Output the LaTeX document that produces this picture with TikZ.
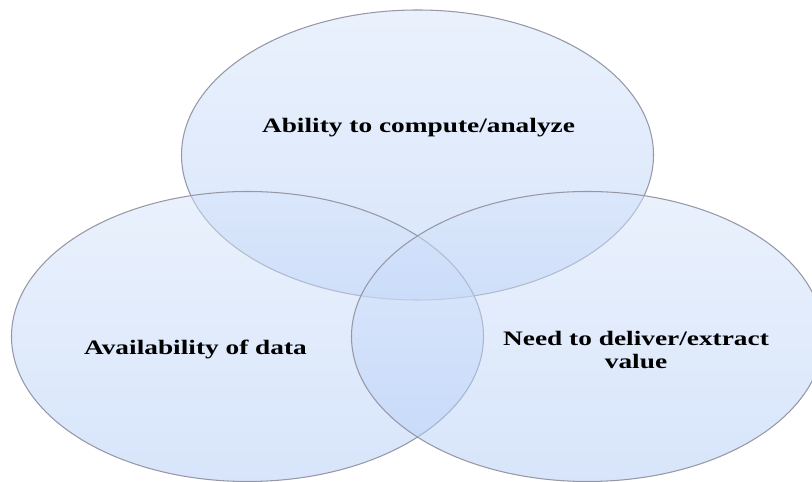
\documentclass[tikz,border=0pt]{standalone}
\usepackage{fontspec}
\setmainfont{Liberation Serif}
\usepackage{tikz}
\usepackage{xcolor}
\usetikzlibrary{shapes.geometric, positioning}
\definecolor{venntop}{RGB}{214, 228, 251}
\definecolor{vennbottom}{RGB}{176, 203, 246}
\definecolor{vennline}{RGB}{150, 152, 165}

\begin{document}
\begin{tikzpicture}[
    venn/.style={ellipse, draw=vennline, line width=0.6pt, top color=venntop, bottom color=vennbottom,
                 fill opacity=0.5, draw opacity=1, minimum width=9.44cm, minimum height=5.8cm, inner sep=0pt},
    label/.style={font=\fontsize{11.7}{10.1}\selectfont\bfseries, align=center, inner sep=0pt,
                  xscale=1.33, transform shape, text opacity=1}
]

\useasboundingbox (0, 0) rectangle (16.24, 9.64);

% The three sets
\node[venn] (compute) at (8.35, 6.54) {};
\node[venn] (data) at (4.95, 2.91) {};
\node[venn] (value) at (11.75, 2.91) {};

% Set labels
\node[label, anchor=base] (computelbl) at (8.37, 6.98) {Ability to compute/analyze};
\node[label, anchor=base] (datalbl) at (3.91, 2.54) {Availability of data};
\node[label] (valuelbl) at (12.72, 2.64) {Need to deliver/extract\\[3pt]value};

\end{tikzpicture}
\end{document}
